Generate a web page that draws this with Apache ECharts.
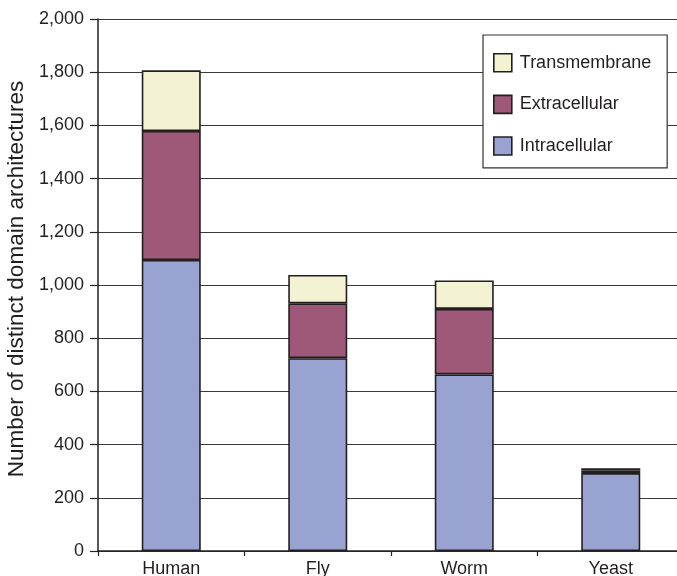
<!DOCTYPE html>
<html><head><meta charset="utf-8">
<script src="https://cdn.jsdelivr.net/npm/echarts@6/dist/echarts.min.js"></script>
<style>html,body{margin:0;padding:0;background:#fff}#c{width:677px;height:576px}</style>
</head><body><div id="c"></div>
<script>
const categories = ['Human', 'Fly', 'Worm', 'Yeast'];
const intracellular = [1094, 725, 664, 293];
const extracellular = [485, 206, 246, 10];
const transmembrane = [228, 107, 107, 8];
const yTicks = [0, 200, 400, 600, 800, 1000, 1200, 1400, 1600, 1800, 2000];

const font = 'Liberation Sans, Arial, Helvetica, sans-serif';
const edge = '#231f20';
function ser(name, data, color) {
  return {
    name, type: 'bar', stack: 't', data, barWidth: 59,
    itemStyle: { color, borderColor: edge, borderWidth: 1.6 },
    emphasis: { disabled: true }
  };
}
const chart = echarts.init(document.getElementById('c'), null, { renderer: 'canvas' });
chart.setOption({
  animation: false,
  textStyle: { fontFamily: font },
  grid: { left: 98, top: 19, width: 586, height: 532, containLabel: false, outerBoundsMode: 'none' },
  legend: {
    orient: 'vertical', left: 483, top: 35,
    data: ['Transmembrane', 'Extracellular', 'Intracellular'],
    itemWidth: 18, itemHeight: 18, itemGap: 22,
    padding: [18, 16, 12, 10],
    backgroundColor: '#fff', borderColor: '#333', borderWidth: 1.2,
    textStyle: { fontSize: 18, color: '#231f20', fontFamily: font, padding: [0, 0, 0, 3] },
    icon: 'rect',
    itemStyle: { borderColor: edge, borderWidth: 1.6 }
  },
  xAxis: {
    type: 'category', data: categories,
    axisLine: { lineStyle: { color: edge, width: 1.5 } },
    axisTick: { show: true, length: 5, lineStyle: { color: edge, width: 1.2 } },
    axisLabel: { fontSize: 18, color: '#231f20', margin: 9, fontFamily: font },
    splitLine: { show: false }
  },
  yAxis: {
    type: 'value', min: 0, max: 2000, interval: 200,
    name: 'Number of distinct domain architectures', nameLocation: 'middle', nameGap: 70,
    nameTextStyle: { fontSize: 22.5, color: '#231f20', fontFamily: font, padding: [0, 0, 0, 12] },
    axisLine: { show: true, lineStyle: { color: edge, width: 1.5 } },
    axisTick: { show: true, inside: false, length: 8, lineStyle: { color: edge, width: 1.2 } },
    axisLabel: { fontSize: 18, color: '#231f20', margin: 14, fontFamily: font,
      formatter: v => yTicks.includes(v) ? v.toLocaleString('en-US') : '' },
    splitLine: { show: true, lineStyle: { color: '#3a3a3a', width: 1.2 } }
  },
  series: [
    ser('Intracellular', intracellular, '#99a3d1'),
    ser('Extracellular', extracellular, '#9e5979'),
    ser('Transmembrane', transmembrane, '#f3f2d2')
  ]
});
</script></body></html>
